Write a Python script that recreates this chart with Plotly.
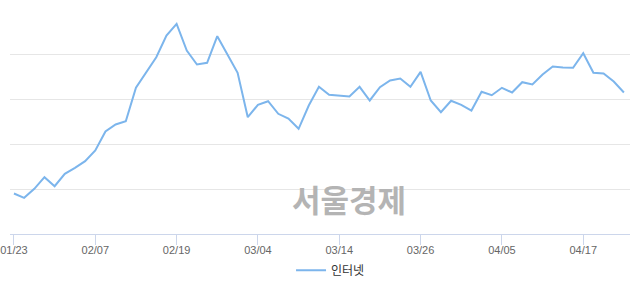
import plotly.graph_objects as go

dates = ["01/23","01/24","01/25","01/28","01/29","01/30","01/31","02/01",
         "02/07","02/08","02/11","02/12","02/13","02/14","02/15","02/18",
         "02/19","02/20","02/21","02/22","02/25","02/26","02/27","02/28",
         "03/04","03/05","03/06","03/07","03/08","03/11","03/12","03/13",
         "03/14","03/15","03/18","03/19","03/20","03/21","03/22","03/25",
         "03/26","03/27","03/28","03/29","04/01","04/02","04/03","04/04",
         "04/05","04/08","04/09","04/10","04/11","04/12","04/15","04/16",
         "04/17","04/18","04/19","04/22","04/23"]

values = [9.0, 8.04, 10.04, 12.62, 10.62, 13.38, 14.71, 16.18,
          18.56, 22.78, 24.33, 25.07, 32.49, 35.96, 39.29, 44.11,
          46.71, 40.78, 37.67, 38.04, 43.96, 39.89, 35.82, 25.96,
          28.71, 29.51, 26.71, 25.67, 23.38, 28.56, 32.71, 30.93,
          30.78, 30.56, 32.71, 29.67, 32.62, 34.11, 34.56, 32.71,
          36.04, 29.67, 27.07, 29.6, 28.71, 27.44, 31.6, 30.84,
          32.49, 31.44, 33.73, 33.22, 35.44, 37.22, 37.0, 36.93,
          40.18, 35.82, 35.67, 33.89, 31.44]

tick_labels = ["01/23", "02/07", "02/19", "03/04", "03/14", "03/26", "04/05", "04/17"]
series_name = "인터넷"

fig = go.Figure()
fig.add_trace(go.Scatter(
    x=dates, y=values, mode="lines", name=series_name,
    line=dict(color="#7cb5ec", width=2),
))

fig.update_layout(
    width=640, height=294,
    margin=dict(l=10, r=10, t=9, b=60, autoexpand=False),
    paper_bgcolor="white", plot_bgcolor="white",
    showlegend=True,
    legend=dict(orientation="h", x=0.517, xanchor="center", y=-0.097, yanchor="top",
                font=dict(family="Noto Sans CJK KR", size=12, color="#333333"),
                bgcolor="rgba(0,0,0,0)"),
    xaxis=dict(type="category", range=[-0.39, 60.6], automargin=False,
               tickmode="array", tickvals=tick_labels, ticktext=tick_labels,
               showgrid=False, showline=True, linecolor="#ccd6eb", linewidth=1,
               ticks="outside", ticklen=10, tickcolor="#ccd6eb", tickwidth=1,
               ticklabelstandoff=-4,
               tickfont=dict(family="Liberation Sans", size=11, color="#666666"),
               zeroline=False, fixedrange=True),
    yaxis=dict(range=[0, 50], dtick=10, showgrid=True, gridcolor="#e6e6e6",
               gridwidth=1, showticklabels=False, zeroline=False, showline=False,
               automargin=False, fixedrange=True),
    annotations=[dict(text="<b>서울경제</b>", xref="paper", yref="paper",
                      x=0.547, y=0.158, xanchor="center", yanchor="middle",
                      showarrow=False,
                      font=dict(family="Noto Sans CJK KR", size=31, color="#b4b4b4"))],
)

fig.write_html("out.html")
